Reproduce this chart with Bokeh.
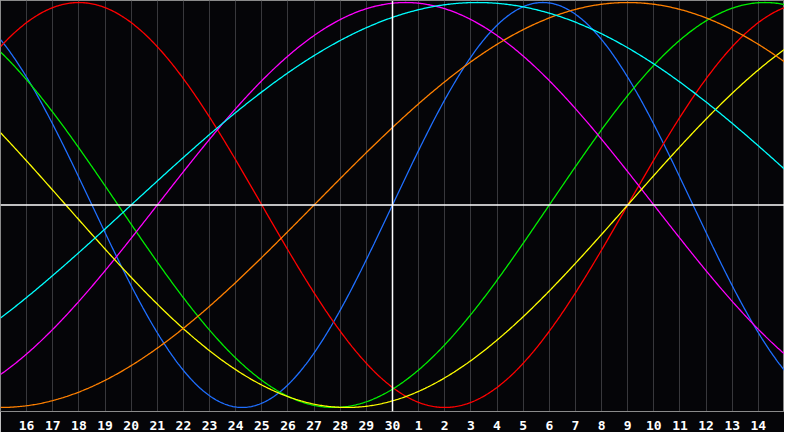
import numpy as np
from bokeh.plotting import figure
from bokeh.models import Range1d, FixedTicker, Span
from bokeh.embed import file_html
from bokeh.resources import INLINE

# day labels along the bottom (today = 30)
day_labels = [16, 17, 18, 19, 20, 21, 22, 23, 24, 25, 26, 27, 28, 29, 30,
              1, 2, 3, 4, 5, 6, 7, 8, 9, 10, 11, 12, 13, 14]
today_index = 15

# biorhythm cycles: length in days and day within the cycle on "today"
cycle_names = ["physical", "emotional", "intellectual", "intuitive",
               "aesthetic", "awareness", "spiritual"]
cycle_lengths = [23, 28, 33, 38, 43, 48, 53]
cycle_day_today = [0, 19, 27, 9, 34, 3, 10]
cycle_colors = ["#1f6fff", "#ff0000", "#00ee00", "#ff00ff",
                "#ffff00", "#ff8000", "#00ffff"]

p = figure(width=784, height=432, output_backend="svg", toolbar_location=None,
           x_range=Range1d(0, 30), y_range=Range1d(-1.02, 1.01),
           min_border_left=0, min_border_right=0, min_border_top=0)

p.background_fill_color = "#050508"
p.border_fill_color = "#050508"
p.outline_line_color = "#8a8a8a"

p.yaxis.visible = False
p.ygrid.grid_line_color = None

ticks = list(range(1, 30))
p.xaxis.ticker = FixedTicker(ticks=ticks)
p.xaxis.major_label_overrides = {t: str(d) for t, d in zip(ticks, day_labels)}
p.xaxis.major_tick_line_color = None
p.xaxis.minor_tick_line_color = None
p.xaxis.axis_line_color = "#8a8a8a"
p.xaxis.major_label_text_color = "white"
p.xaxis.major_label_text_font = "DejaVu Sans Mono"
p.xaxis.major_label_text_font_style = "bold"
p.xaxis.major_label_text_font_size = "13px"
p.xaxis.major_label_standoff = 3

p.xgrid.ticker = FixedTicker(ticks=ticks)
p.xgrid.grid_line_color = "#38383c"
p.xgrid.grid_line_width = 1

t = np.linspace(0, 30, 601)
for name, length, day0, color in zip(cycle_names, cycle_lengths, cycle_day_today, cycle_colors):
    y = np.sin(2 * np.pi * (t - today_index + day0) / length)
    p.line(t, y, line_color=color, line_width=1.3)

p.add_layout(Span(location=0, dimension="width", line_color="white", line_width=1.5))
p.add_layout(Span(location=today_index, dimension="height", line_color="white", line_width=1.5))

open("out.html", "w").write(file_html(p, INLINE))
